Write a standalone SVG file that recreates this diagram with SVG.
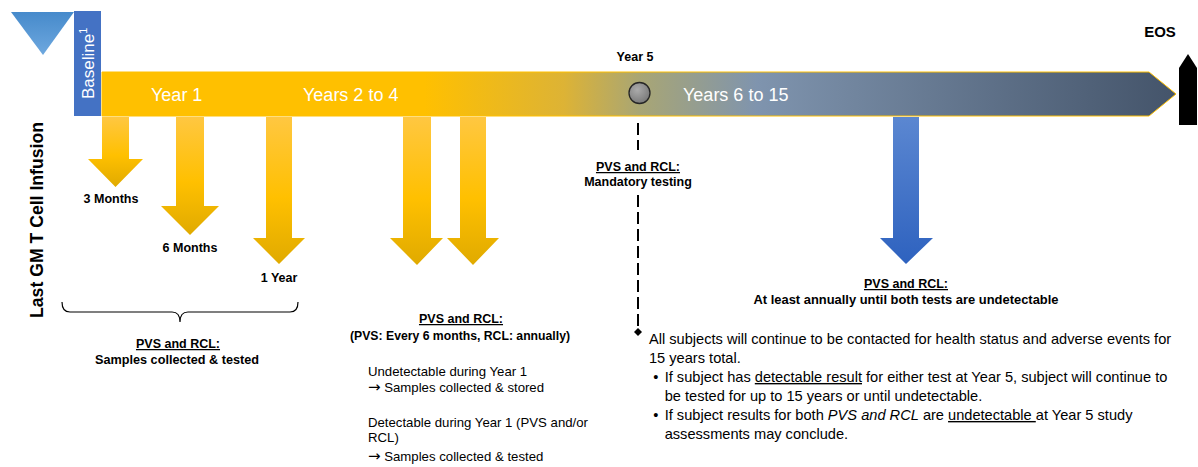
<svg xmlns="http://www.w3.org/2000/svg" width="1198" height="467" viewBox="0 0 1198 467">
  <defs>
    <linearGradient id="barGrad" gradientUnits="userSpaceOnUse" x1="102" y1="0" x2="1176" y2="0">
      <stop offset="0" stop-color="#FFC000"/>
      <stop offset="0.3" stop-color="#FFC000"/>
      <stop offset="0.43" stop-color="#DDB335"/>
      <stop offset="0.5" stop-color="#A9A674"/>
      <stop offset="0.61" stop-color="#7F94AE"/>
      <stop offset="1" stop-color="#44546A"/>
    </linearGradient>
    <linearGradient id="yArrow" x1="0" y1="0" x2="0" y2="1">
      <stop offset="0" stop-color="#FFC741"/>
      <stop offset="0.55" stop-color="#FFC000"/>
      <stop offset="1" stop-color="#E0AA00"/>
    </linearGradient>
    <linearGradient id="bArrow" x1="0" y1="0" x2="0" y2="1">
      <stop offset="0" stop-color="#5B87D1"/>
      <stop offset="1" stop-color="#2E62BF"/>
    </linearGradient>
    <linearGradient id="triGrad" x1="0" y1="0" x2="0" y2="1">
      <stop offset="0" stop-color="#468ACB"/>
      <stop offset="1" stop-color="#6EA8DF"/>
    </linearGradient>
    <radialGradient id="circGrad" cx="0.4" cy="0.35" r="0.7">
      <stop offset="0" stop-color="#ABABAB"/>
      <stop offset="1" stop-color="#777777"/>
    </radialGradient>
    <marker id="diamond" markerUnits="userSpaceOnUse" markerWidth="8" markerHeight="8" refX="4" refY="4" orient="auto">
      <path d="M4,0 L8,4 L4,8 L0,4 Z" fill="#000"/>
    </marker>
    <style>
      text { font-family: "Liberation Sans", Arial, sans-serif; fill: #000; }
      .bar { font-size: 18px; fill: #FFFFFF; }
      .lbl { font-size: 12.5px; font-weight: bold; text-anchor: middle; }
      .ul { text-decoration: underline; }
      .body { font-size: 13.2px; }
      .body2 { font-size: 14px; }
      .arr { font-family: "DejaVu Sans", sans-serif; font-size: 15px; }
      .yarrow { fill: url(#yArrow); }
    </style>
  </defs>

  <!-- Infusion triangle marker -->
  <g id="infusion-marker">
    <polygon points="11,12 74,12 43,55" fill="url(#triGrad)"/>
  </g>

  <!-- Vertical title -->
  <g id="infusion-label">
    <text transform="translate(43,220) rotate(-90)" font-size="17.7" font-weight="bold" text-anchor="middle" textLength="196" lengthAdjust="spacingAndGlyphs">Last GM T Cell Infusion</text>
  </g>

  <!-- Baseline box -->
  <g id="baseline">
    <rect x="74" y="11" width="27" height="105" fill="#4472C4"/>
    <text transform="translate(94,99) rotate(-90)" font-size="17" style="fill:#FFFFFF">Baseline<tspan font-size="11" dy="-7">1</tspan></text>
  </g>

  <!-- Timeline bar -->
  <g id="timeline">
    <polygon points="102,72 1149,72 1176,94 1149,116 102,116" fill="url(#barGrad)" stroke="#FFC000" stroke-width="1"/>
    <text class="bar" x="151" y="101" style="fill:#FFFFFF">Year 1</text>
    <text class="bar" x="303" y="101" style="fill:#FFFFFF">Years 2 to 4</text>
    <text class="bar" x="683" y="101" style="fill:#FFFFFF">Years 6 to 15</text>
  </g>

  <!-- Year 5 milestone -->
  <g id="year5">
    <circle cx="639.5" cy="93" r="10.5" fill="url(#circGrad)" stroke="#262626" stroke-width="1.3"/>
    <text class="lbl" x="635" y="61">Year 5</text>
  </g>

  <!-- End of study -->
  <g id="eos">
    <polygon points="1179,68 1188,54 1197,68 1197,125 1179,125" fill="#000"/>
    <text x="1160" y="37" font-size="15" font-weight="bold" text-anchor="middle">EOS</text>
  </g>

  <!-- Year 1 arrows -->
  <g id="arrow-3m">
    <polygon class="yarrow" points="102,117 129,117 129,159 143,159 115.5,187 88,159 102,159"/>
    <text class="lbl" x="111" y="203">3 Months</text>
  </g>
  <g id="arrow-6m">
    <polygon class="yarrow" points="176,117 204,117 204,206 219,206 190,235 161,206 176,206"/>
    <text class="lbl" x="190" y="252">6 Months</text>
  </g>
  <g id="arrow-1y">
    <polygon class="yarrow" points="266,117 292,117 292,238 305,238 279,264 253,238 266,238"/>
    <text class="lbl" x="279" y="282">1 Year</text>
  </g>

  <!-- Years 2-4 arrows -->
  <g id="arrow-y2a">
    <polygon class="yarrow" points="403,117 431,117 431,238 443,238 417,265 390,238 403,238"/>
  </g>
  <g id="arrow-y2b">
    <polygon class="yarrow" points="460,117 486,117 486,238 499,238 473,265 447,238 460,238"/>
  </g>

  <!-- Years 6-15 arrow -->
  <g id="arrow-y6">
    <polygon fill="url(#bArrow)" points="893,117 919,117 919,238 933,238 906,264 880,238 893,238"/>
  </g>

  <!-- Connectors -->
  <g id="connectors" fill="none" stroke="#000">
    <line x1="638" y1="123" x2="638" y2="150" stroke-width="2" stroke-dasharray="12 5"/>
    <line x1="638" y1="195" x2="638" y2="332" stroke-width="2" stroke-dasharray="12 5" marker-end="url(#diamond)"/>
    <path d="M62,302 Q62,312 70,312 L172,312 Q180,312 180,322 Q180,312 188,312 L290,312 Q298,312 298,302" stroke-width="1.2"/>
  </g>

  <!-- Year 1 annotation -->
  <g id="note-year1">
    <text class="lbl ul" x="178" y="348">PVS and RCL:</text>
    <text class="lbl" x="177" y="364" textLength="164" lengthAdjust="spacingAndGlyphs">Samples collected &amp; tested</text>
  </g>

  <!-- Years 2-4 annotation -->
  <g id="note-years2to4">
    <text class="lbl ul" x="461" y="323">PVS and RCL:</text>
    <text class="lbl" x="460" y="340" textLength="220" lengthAdjust="spacingAndGlyphs">(PVS: Every 6 months, RCL: annually)</text>
    <text class="body" x="368" y="376">Undetectable during Year 1</text>
    <text class="body" x="368" y="392"><tspan class="arr">→</tspan> Samples collected &amp; stored</text>
    <text class="body" x="368" y="427">Detectable during Year 1 (PVS and/or</text>
    <text class="body" x="368" y="442">RCL)</text>
    <text class="body" x="368" y="461"><tspan class="arr">→</tspan> Samples collected &amp; tested</text>
  </g>

  <!-- Year 5 annotation -->
  <g id="note-year5">
    <text class="lbl ul" x="638" y="171">PVS and RCL:</text>
    <text class="lbl" x="638" y="186">Mandatory testing</text>
  </g>

  <!-- Years 6-15 annotation -->
  <g id="note-years6to15">
    <text class="lbl ul" x="906" y="288">PVS and RCL:</text>
    <text class="lbl" x="906" y="304" textLength="305" lengthAdjust="spacingAndGlyphs">At least annually until both tests are undetectable</text>
  </g>

  <!-- Follow-up notes -->
  <g id="note-followup" transform="translate(649,0) scale(1.045,1) translate(-649,0)">
    <text class="body2" x="649" y="344">All subjects will continue to be contacted for health status and adverse events for</text>
    <text class="body2" x="649" y="363">15 years total.</text>
    <text class="body2" x="653" y="382">•</text>
    <text class="body2" x="664" y="382">If subject has <tspan class="ul">detectable result</tspan> for either test at Year 5, subject will continue to</text>
    <text class="body2" x="664" y="401">be tested for up to 15 years or until undetectable.</text>
    <text class="body2" x="653" y="420">•</text>
    <text class="body2" x="664" y="420">If subject results for both <tspan font-style="italic">PVS and RCL</tspan> are <tspan class="ul">undetectable </tspan>at Year 5 study</text>
    <text class="body2" x="664" y="439">assessments may conclude.</text>
  </g>
</svg>
